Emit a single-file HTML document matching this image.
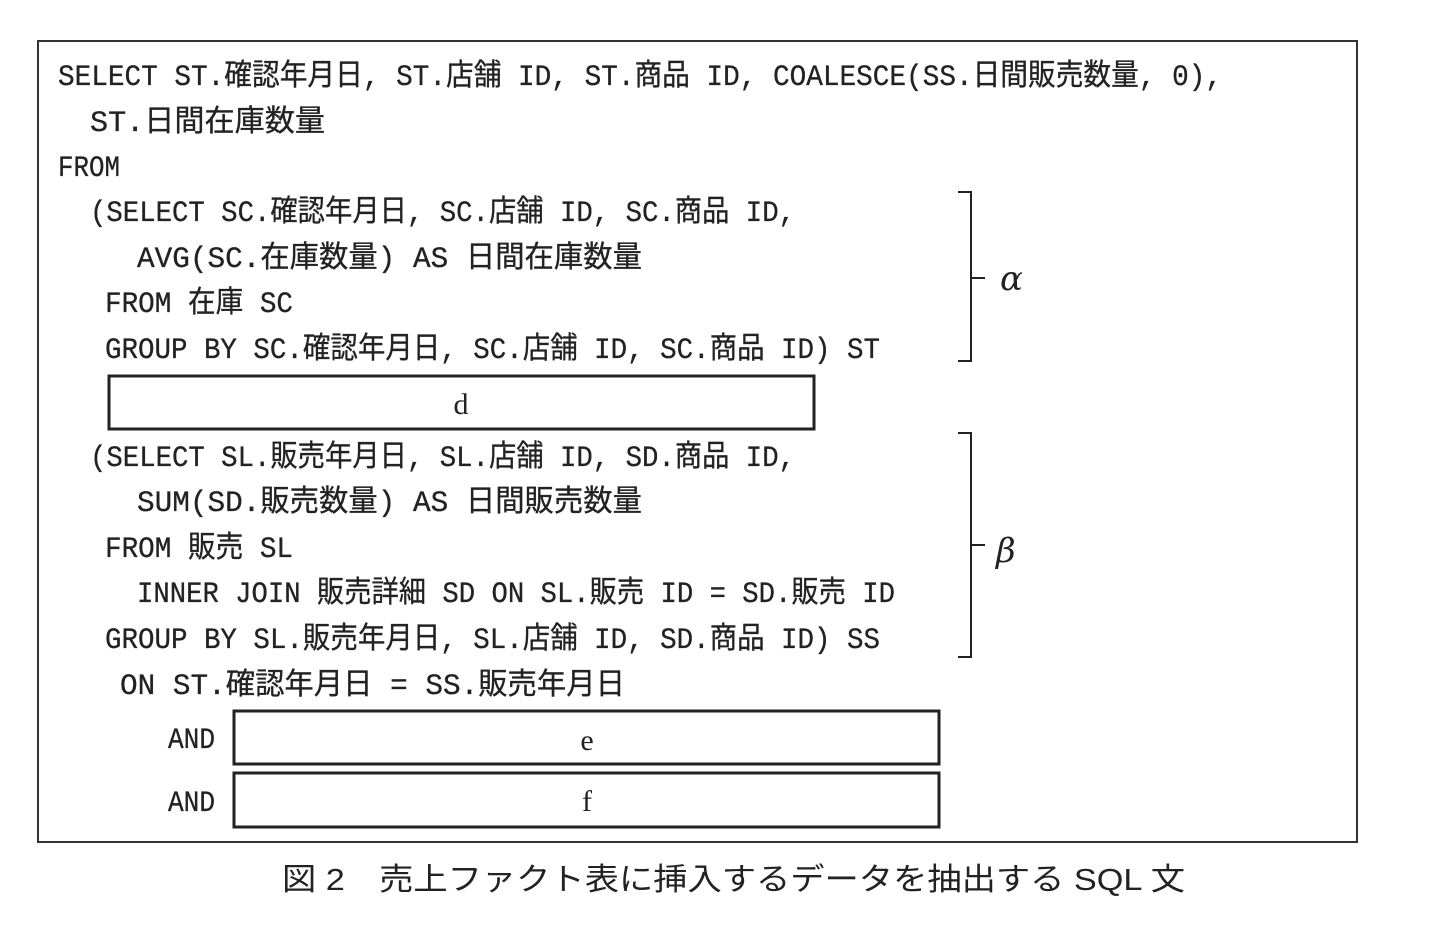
<!DOCTYPE html>
<html><head><meta charset="utf-8"><style>
html,body{margin:0;padding:0;background:#fff;}
svg{display:block}
.t{font-family:"Liberation Mono","Noto Sans CJK JP",monospace;font-size:30px;fill:#222;stroke:#222;stroke-width:0.3}
.s{font-family:"Liberation Serif",serif;font-size:30px;fill:#222}
</style></head><body>
<svg width="1452" height="934" viewBox="0 0 1452 934" xmlns="http://www.w3.org/2000/svg">
<rect x="38" y="41" width="1319" height="801" fill="none" stroke="#333" stroke-width="2"/>
<g class="t">
<text x="58" y="85" textLength="1164" lengthAdjust="spacingAndGlyphs">SELECT ST.確認年月日, ST.店舗 ID, ST.商品 ID, COALESCE(SS.日間販売数量, 0),</text>
<text x="90" y="131" textLength="235" lengthAdjust="spacingAndGlyphs">ST.日間在庫数量</text>
<text x="58" y="176" textLength="62" lengthAdjust="spacingAndGlyphs">FROM</text>
<text x="90" y="221" textLength="705" lengthAdjust="spacingAndGlyphs">(SELECT SC.確認年月日, SC.店舗 ID, SC.商品 ID,</text>
<text x="137" y="267" textLength="505" lengthAdjust="spacingAndGlyphs">AVG(SC.在庫数量) AS 日間在庫数量</text>
<text x="105" y="312" textLength="188" lengthAdjust="spacingAndGlyphs">FROM 在庫 SC</text>
<text x="105" y="358" textLength="775" lengthAdjust="spacingAndGlyphs">GROUP BY SC.確認年月日, SC.店舗 ID, SC.商品 ID) ST</text>
<text x="90" y="466" textLength="705" lengthAdjust="spacingAndGlyphs">(SELECT SL.販売年月日, SL.店舗 ID, SD.商品 ID,</text>
<text x="137" y="511" textLength="505" lengthAdjust="spacingAndGlyphs">SUM(SD.販売数量) AS 日間販売数量</text>
<text x="105" y="557" textLength="188" lengthAdjust="spacingAndGlyphs">FROM 販売 SL</text>
<text x="137" y="602" textLength="758" lengthAdjust="spacingAndGlyphs">INNER JOIN 販売詳細 SD ON SL.販売 ID = SD.販売 ID</text>
<text x="105" y="648" textLength="775" lengthAdjust="spacingAndGlyphs">GROUP BY SL.販売年月日, SL.店舗 ID, SD.商品 ID) SS</text>
<text x="120" y="694" textLength="505" lengthAdjust="spacingAndGlyphs">ON ST.確認年月日 = SS.販売年月日</text>
<text x="168" y="748" textLength="47" lengthAdjust="spacingAndGlyphs">AND</text>
<text x="168" y="811" textLength="47" lengthAdjust="spacingAndGlyphs">AND</text>
</g>
<rect x="109" y="376" width="705" height="53" fill="none" stroke="#222" stroke-width="3"/>
<text class="s" x="461" y="414" text-anchor="middle">d</text>
<rect x="234" y="711" width="705" height="53" fill="none" stroke="#222" stroke-width="3"/>
<text class="s" x="587" y="750" text-anchor="middle">e</text>
<rect x="234" y="773" width="705" height="54" fill="none" stroke="#222" stroke-width="3"/>
<text class="s" x="587" y="811" text-anchor="middle">f</text>
<path d="M958 192 H971 V361 H958 M971 278 H985" fill="none" stroke="#222" stroke-width="2"/>
<text x="1000" y="290" font-family="DejaVu Serif,serif" font-style="italic" font-size="34" fill="#222">α</text>
<path d="M958 433 H971 V657 H958 M971 545 H985" fill="none" stroke="#222" stroke-width="2"/>
<text x="996" y="562" font-family="DejaVu Serif,serif" font-style="italic" font-size="34" fill="#222">β</text>
<text x="282" y="890" textLength="903" lengthAdjust="spacingAndGlyphs" font-family="Liberation Sans,'Noto Sans CJK JP',sans-serif" font-size="31" fill="#222">図 2　売上ファクト表に挿入するデータを抽出する SQL 文</text>
</svg>
</body></html>
